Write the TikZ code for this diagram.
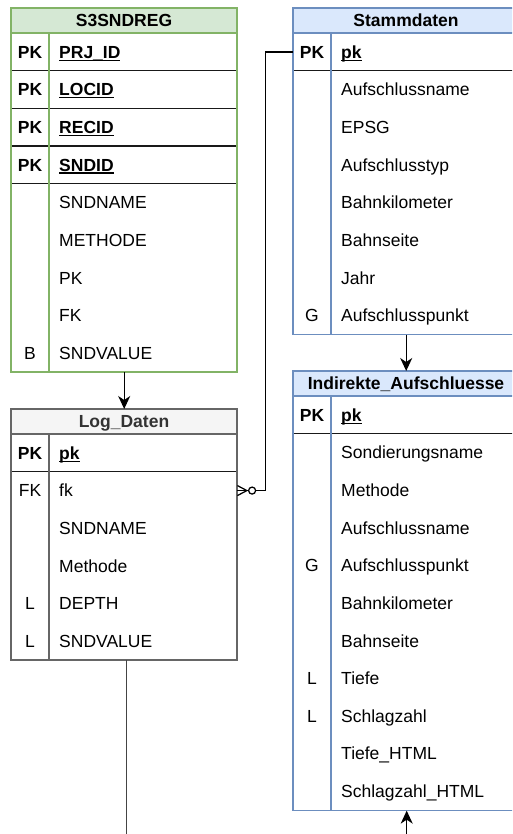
\documentclass[tikz,border=0pt]{standalone}
\usepackage{fontspec}
\setmainfont{Liberation Sans}
\usetikzlibrary{arrows.meta}
\definecolor{gfill}{HTML}{D5E8D4}
\definecolor{gstroke}{HTML}{82B366}
\definecolor{bfill}{HTML}{DAE8FC}
\definecolor{bstroke}{HTML}{6C8EBF}
\definecolor{hfill}{HTML}{F5F5F5}
\definecolor{hstroke}{HTML}{666666}
\definecolor{htext}{HTML}{333333}
\definecolor{connline}{HTML}{444444}
\newcommand\ulx[1]{\setbox0\hbox{#1}\rlap{\rule[-2.7pt]{\wd0}{1.3pt}}\box0}
\tikzset{
  lw/.style={line width=1.25pt},
  sepline/.style={draw=black!90,line width=1.25pt},
  arr/.style={-{Stealth[length=13pt,width=12pt,inset=4pt]},line width=1.25pt,draw=black},
  conn/.style={line width=1.25pt,draw=black},
}
\newcommand\ertab[9]{%
  \pgfmathsetmacro\tabh{25.1+#4*37.65}%
  \node[fill=white,minimum width=226pt,minimum height=\tabh pt,anchor=north west,inner sep=0pt] (#1) at (#2,#3) {};
  \fill[#5] (#2,#3) rectangle ++(226,25.1);
  \node[font=\bfseries,text=#8,anchor=base,inner sep=0pt] (#1-h) at (#2+113,#3+18.7) {#7};
  \draw[#6,lw] (#2,#3+25.1) -- ++(226,0);
  \foreach \fkey/\ftext/\ftype [count=\i from 0] in {#9} {
    \pgfmathsetmacro\yc{#3+25.1+(\i+0.5)*37.65}
    \coordinate (#1-c\i) at (#2,\yc);
    \ifnum\ftype=1
      \node[anchor=base,font=\bfseries,inner sep=0pt] (#1-k\i) at (#2+19,\yc+6.2) {\fkey};
      \node[anchor=base west,font=\bfseries,inner sep=0pt] (#1-r\i) at (#2+48,\yc+6.2) {\ulx{\ftext}};
      \draw[sepline] (#2,\yc+18.825) -- ++(226,0);
    \else
      \node[anchor=base,inner sep=0pt] (#1-k\i) at (#2+19,\yc+6.2) {\fkey};
      \node[anchor=base west,inner sep=0pt] (#1-r\i) at (#2+48,\yc+6.2) {\ftext};
    \fi
  }
  \draw[#6,lw] (#2+38,#3+25.1) -- (#2+38,#3+\tabh);
  \draw[#6,lw] (#2,#3) rectangle ++(226,\tabh);
}
\begin{document}
\begin{tikzpicture}[x=1pt,y=-1pt]
\fontsize{17.5}{21}\selectfont
\useasboundingbox (0,0) rectangle (512,834);
\clip (0,0) rectangle (512,834);
\fill[white] (0,0) rectangle (512,834);

\ertab{s3}{11}{8}{9}{gfill}{gstroke}{S3SNDREG}{black}{PK/PRJ\_ID/1, PK/LOCID/1, PK/RECID/1, PK/SNDID/1, /SNDNAME/0, /METHODE/0, /PK/0, /FK/0, B/SNDVALUE/0}
\ertab{log}{11}{409}{6}{hfill}{hstroke}{Log\_Daten}{htext}{PK/pk/1, FK/fk/0, /SNDNAME/0, /Methode/0, L/DEPTH/0, L/SNDVALUE/0}
\ertab{stamm}{293}{8}{8}{bfill}{bstroke}{Stammdaten}{black}{PK/pk/1, /Aufschlussname/0, /EPSG/0, /Aufschlusstyp/0, /Bahnkilometer/0, /Bahnseite/0, /Jahr/0, G/Aufschlusspunkt/0}
\ertab{ind}{293}{371}{11}{bfill}{bstroke}{Indirekte\_Aufschluesse}{black}{PK/pk/1, /Sondierungsname/0, /Methode/0, /Aufschlussname/0, G/Aufschlusspunkt/0, /Bahnkilometer/0, /Bahnseite/0, L/Tiefe/0, L/Schlagzahl/0, /Tiefe\_HTML/0, /Schlagzahl\_HTML/0}

% arrows between tables
\draw[arr] (s3.south) -- (log.north);
\draw[arr] (stamm.south) -- (ind.north);

% line leaving Log_Daten downward
\coordinate (logend) at (126.5,845);
\draw[line width=1.4pt,draw=connline] (log.south -| logend) -- (logend);

% arrow entering Indirekte_Aufschluesse from below
\coordinate (indstart) at (406.7,845);
\draw[arr] (indstart) -- (ind.south -| indstart);

% ER relation: Log_Daten.fk (zero or many) -> Stammdaten.pk
\coordinate (bendx) at (265.5,0);
\coordinate (fkpt) at (log.east |- log-c1);
\draw[conn] (fkpt) -| (bendx |- stamm-c0) -- (stamm-c0);
\draw[conn,line join=miter] (fkpt) ++(0,-5) -- ++(9.5,5) -- ++(-9.5,5);
\path (fkpt) ++(14.7,0) coordinate (circ);
\draw[conn,fill=white] (circ) circle[radius=3.5];
\end{tikzpicture}
\end{document}
